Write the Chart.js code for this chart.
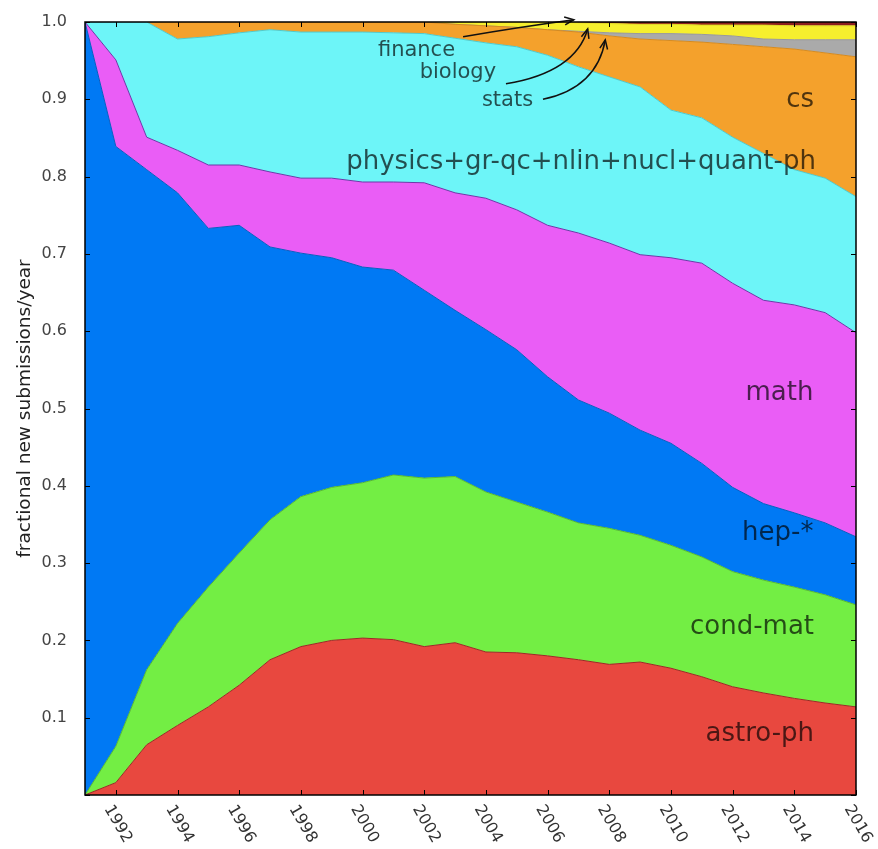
<!DOCTYPE html>
<html>
<head>
<meta charset="utf-8">
<title>arXiv new submissions by category</title>
<script src="https://cdn.jsdelivr.net/npm/chart.js@4.4.1/dist/chart.umd.min.js"></script>
<style>
  html, body { margin: 0; padding: 0; background: #fff; }
  #chart { display: block; }
</style>
</head>
<body>
<canvas id="chart" width="878" height="849"></canvas>
<script>
// Years and the even-year tick marks
const years = [1991, 1992, 1993, 1994, 1995, 1996, 1997, 1998, 1999, 2000, 2001, 2002, 2003,
               2004, 2005, 2006, 2007, 2008, 2009, 2010, 2011, 2012, 2013, 2014, 2015, 2016];
const xTicks = [1992, 1994, 1996, 1998, 2000, 2002, 2004, 2006, 2008, 2010, 2012, 2014, 2016];

// Fraction of new submissions per year, stacked bottom to top
const astroPh = [0, 0.016, 0.065, 0.090, 0.114, 0.142, 0.175, 0.192, 0.200, 0.203, 0.201, 0.192, 0.197,
                 0.185, 0.184, 0.180, 0.175, 0.169, 0.172, 0.164, 0.153, 0.140, 0.132, 0.125, 0.119, 0.114];
const condMat = [0, 0.047, 0.097, 0.132, 0.155, 0.171, 0.181, 0.194, 0.198, 0.201, 0.213, 0.218, 0.215,
                 0.207, 0.195, 0.186, 0.177, 0.176, 0.164, 0.159, 0.155, 0.149, 0.146, 0.144, 0.140, 0.132];
const hep = [1.0, 0.776, 0.647, 0.557, 0.464, 0.424, 0.353, 0.315, 0.297, 0.279, 0.265, 0.243, 0.215,
             0.210, 0.197, 0.175, 0.159, 0.149, 0.136, 0.132, 0.121, 0.109, 0.099, 0.096, 0.093, 0.088];
const math = [0, 0.112, 0.042, 0.055, 0.082, 0.078, 0.097, 0.097, 0.103, 0.110, 0.114, 0.139, 0.152,
              0.170, 0.181, 0.196, 0.216, 0.220, 0.227, 0.240, 0.259, 0.264, 0.263, 0.269, 0.272, 0.264];
const physics = [0, 0.049, 0.149, 0.144, 0.166, 0.171, 0.184, 0.189, 0.189, 0.194, 0.193, 0.193, 0.200,
                 0.201, 0.211, 0.220, 0.215, 0.215, 0.217, 0.191, 0.188, 0.189, 0.190, 0.175, 0.174, 0.176];
const cs = [0, 0, 0, 0.022, 0.019, 0.014, 0.010, 0.013, 0.013, 0.013, 0.014, 0.015, 0.018,
            0.022, 0.025, 0.033, 0.045, 0.053, 0.062, 0.090, 0.098, 0.120, 0.138, 0.156, 0.162, 0.181];
const stats = [0, 0, 0, 0, 0, 0, 0, 0, 0, 0, 0, 0, 0,
               0, 0, 0, 0.001, 0.004, 0.007, 0.009, 0.010, 0.011, 0.010, 0.012, 0.017, 0.022];
const biology = [0, 0, 0, 0, 0, 0, 0, 0, 0, 0, 0, 0, 0.003,
                 0.005, 0.007, 0.010, 0.011, 0.012, 0.012, 0.012, 0.012, 0.014, 0.018, 0.018, 0.018, 0.018];
const finance = [0, 0, 0, 0, 0, 0, 0, 0, 0, 0, 0, 0, 0,
                 0, 0, 0, 0.001, 0.002, 0.003, 0.003, 0.004, 0.004, 0.004, 0.005, 0.005, 0.005];

const series = [
    { name: 'astro-ph', data: astroPh, color: '#E8483F', edge: '#9a2a24' },
    { name: 'cond-mat', data: condMat, color: '#73EE44', edge: '#55b833' },
    { name: 'hep-*', data: hep, color: '#0079F4', edge: '#0a5cc0' },
    { name: 'math', data: math, color: '#EA5DF6', edge: '#6a3aa8' },
    { name: 'physics', data: physics, color: '#6DF5F8', edge: '#52c9c9' },
    { name: 'cs', data: cs, color: '#F4A12C', edge: '#d48a20' },
    { name: 'stats', data: stats, color: '#AAAAAA', edge: '#999999' },
    { name: 'biology', data: biology, color: '#F6EF2E', edge: '#e0d820' },
    { name: 'finance', data: finance, color: '#8B1E1E', edge: '#8B1E1E' }
];

// Text placed inside the areas (right aligned, data coordinates)
const areaLabels = [
    { text: 'cs', year: 2014.64, value: 0.899 },
    { text: 'physics+gr-qc+nlin+nucl+quant-ph', year: 2014.7, value: 0.819 },
    { text: 'math', year: 2014.62, value: 0.520 },
    { text: 'hep-*', year: 2014.62, value: 0.339 },
    { text: 'cond-mat', year: 2014.64, value: 0.217 },
    { text: 'astro-ph', year: 2014.64, value: 0.079 }
];

// Small categories with arrows pointing at the top strip
const notes = [
    { text: 'finance', year: 2003.0, value: 0.963, from: [2003.26, 0.981], ctrl: [2005.0, 0.993], to: [2006.85, 1.003] },
    { text: 'biology', year: 2004.33, value: 0.935, from: [2004.65, 0.920], ctrl: [2006.9, 0.935], to: [2007.3, 0.991] },
    { text: 'stats', year: 2005.53, value: 0.899, from: [2005.85, 0.900], ctrl: [2007.6, 0.915], to: [2007.87, 0.977] }
];

const FONT = '"DejaVu Sans", "Liberation Sans", sans-serif';

const decorPlugin = {
    id: 'decor',
    afterDatasetsDraw(chart) {
        const { ctx, scales: { x, y } } = chart;
        ctx.save();

        // Area labels
        ctx.font = '26px ' + FONT;
        ctx.fillStyle = 'rgba(0, 0, 0, 0.68)';
        ctx.textAlign = 'right';
        ctx.textBaseline = 'middle';
        areaLabels.forEach(l => {
            ctx.fillText(l.text, x.getPixelForValue(l.year), y.getPixelForValue(l.value));
        });

        // Annotations and arrows
        ctx.font = '21px ' + FONT;
        notes.forEach(n => {
            ctx.fillText(n.text, x.getPixelForValue(n.year), y.getPixelForValue(n.value));
        });
        ctx.strokeStyle = '#111';
        ctx.lineWidth = 1.5;
        notes.forEach(n => {
            const fx = x.getPixelForValue(n.from[0]), fy = y.getPixelForValue(n.from[1]);
            const cx = x.getPixelForValue(n.ctrl[0]), cy = y.getPixelForValue(n.ctrl[1]);
            const tx = x.getPixelForValue(n.to[0]), ty = y.getPixelForValue(n.to[1]);
            ctx.beginPath();
            ctx.moveTo(fx, fy);
            ctx.quadraticCurveTo(cx, cy, tx, ty);
            ctx.stroke();
            // arrow head
            const ang = Math.atan2(ty - cy, tx - cx);
            ctx.beginPath();
            ctx.moveTo(tx - 10 * Math.cos(ang - 0.4), ty - 10 * Math.sin(ang - 0.4));
            ctx.lineTo(tx, ty);
            ctx.lineTo(tx - 10 * Math.cos(ang + 0.4), ty - 10 * Math.sin(ang + 0.4));
            ctx.stroke();
        });
        ctx.restore();
    },
    afterDraw(chart) {
        const { ctx, chartArea: a, scales: { x, y } } = chart;
        ctx.save();

        // Inward tick marks on all four sides
        ctx.strokeStyle = '#000';
        ctx.lineWidth = 1;
        const len = 5;
        ctx.beginPath();
        xTicks.forEach(t => {
            const px = Math.round(x.getPixelForValue(t)) + 0.5;
            ctx.moveTo(px, a.bottom); ctx.lineTo(px, a.bottom - len);
            ctx.moveTo(px, a.top); ctx.lineTo(px, a.top + len);
        });
        y.ticks.forEach(t => {
            const py = Math.round(y.getPixelForValue(t.value)) + 0.5;
            ctx.moveTo(a.left, py); ctx.lineTo(a.left + len, py);
            ctx.moveTo(a.right, py); ctx.lineTo(a.right - len, py);
        });
        ctx.stroke();

        // Plot frame
        ctx.lineWidth = 1.5;
        ctx.strokeRect(a.left, a.top, a.right - a.left, a.bottom - a.top);

        // Rotated year labels under the plot
        ctx.font = '16px ' + FONT;
        ctx.fillStyle = '#333';
        ctx.textAlign = 'center';
        ctx.textBaseline = 'middle';
        xTicks.forEach(t => {
            ctx.save();
            ctx.translate(x.getPixelForValue(t) + 2, a.bottom + 29);
            ctx.rotate(Math.PI / 3);
            ctx.fillText(String(t), 0, 0);
            ctx.restore();
        });
        ctx.restore();
    }
};

document.addEventListener('DOMContentLoaded', () => {
    const ctx = document.getElementById('chart');

    const datasets = series.map((s, i) => ({
        label: s.name,
        data: s.data,
        backgroundColor: s.color,
        borderColor: s.edge,
        borderWidth: 1,
        pointRadius: 0,
        fill: i === 0 ? 'origin' : '-1'
    }));

    new Chart(ctx, {
        type: 'line',
        data: { labels: years, datasets: datasets },
        options: {
            responsive: false,
            animation: false,
            layout: { padding: { left: 0, right: 22, top: 22, bottom: 0 } },
            plugins: {
                legend: { display: false },
                tooltip: { enabled: false }
            },
            elements: { line: { tension: 0 } },
            scales: {
                x: {
                    type: 'linear',
                    min: 1991,
                    max: 2016,
                    grid: { display: false },
                    border: { display: false },
                    ticks: { display: false },
                    afterFit: s => { s.height = 54; }
                },
                y: {
                    stacked: true,
                    min: 0,
                    max: 1,
                    grid: { display: false },
                    border: { display: false },
                    ticks: {
                        stepSize: 0.1,
                        padding: 10,
                        color: '#444',
                        font: { family: FONT, size: 16 },
                        callback: v => (v === 0 ? '' : v.toFixed(1))
                    },
                    title: {
                        display: true,
                        text: 'fractional new submissions/year',
                        color: '#222',
                        font: { family: FONT, size: 18.5 },
                        padding: { top: 14, bottom: 0 }
                    },
                    afterFit: s => { s.width = 85; }
                }
            }
        },
        plugins: [decorPlugin]
    });
});
</script>
</body>
</html>
